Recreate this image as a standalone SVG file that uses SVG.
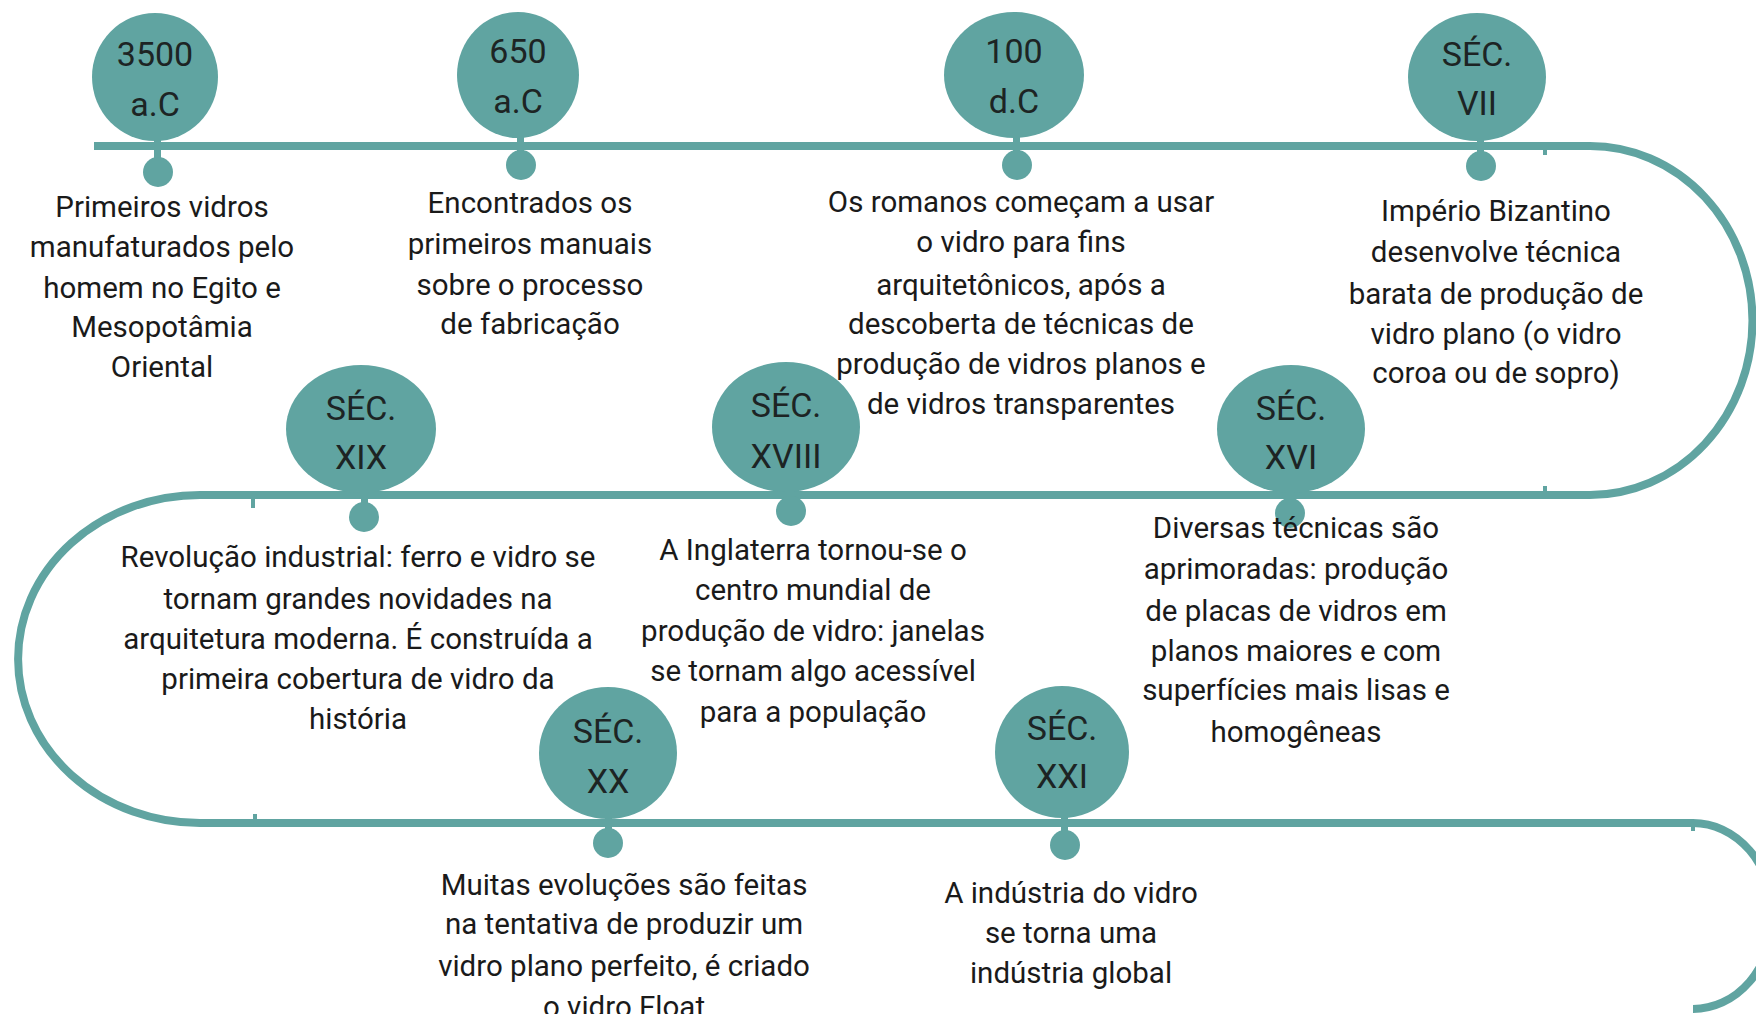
<svg xmlns="http://www.w3.org/2000/svg" width="1756" height="1014" viewBox="0 0 1756 1014">
<style>
.bub{fill:#60a4a1}
.dot{fill:#60a4a1}
.stem{fill:#60a4a1}
.tl{fill:none;stroke:#60a4a1;stroke-width:8}
.tick{fill:#60a4a1}
.yr{font-family:Roboto,"Liberation Sans",sans-serif;font-size:34px;fill:#1d2424;text-anchor:middle}
.tx{font-family:Roboto,"Liberation Sans",sans-serif;font-size:29.5px;fill:#1a1a1a;text-anchor:middle}
</style>
<rect width="1756" height="1014" fill="#ffffff"/>
<g id="connectors">
<path class="tl" d="M94,146 H1590 A162,174 0 0 1 1590,495 H200 A182,164 0 0 0 200,823 H1693 A80,93 0 0 1 1693,1009"/>
<rect class="tick" x="1543" y="146" width="4" height="9"/>
<rect class="tick" x="1543" y="486" width="4" height="9"/>
<rect class="tick" x="251" y="495" width="4" height="13"/>
<rect class="tick" x="253" y="814" width="4" height="9"/>
<rect class="tick" x="1691" y="823" width="4" height="8"/>
</g>
<g id="n3500">
<ellipse class="bub" cx="155" cy="77" rx="63" ry="64"/>
<rect class="stem" x="154" y="140" width="7" height="25"/>
<circle class="dot" cx="158" cy="172" r="15"/>
<text class="yr" x="155" y="66">3500</text>
<text class="yr" x="155" y="116">a.C</text>
<text class="tx"><tspan x="162" y="217">Primeiros vidros</tspan><tspan x="162" y="257">manufaturados pelo</tspan><tspan x="162" y="298">homem no Egito e</tspan><tspan x="162" y="337">Mesopotâmia</tspan><tspan x="162" y="377">Oriental</tspan></text>
</g>
<g id="n650">
<ellipse class="bub" cx="518" cy="75" rx="61" ry="63"/>
<rect class="stem" x="517" y="136" width="7" height="22"/>
<circle class="dot" cx="521" cy="165" r="15"/>
<text class="yr" x="518" y="63">650</text>
<text class="yr" x="518" y="113">a.C</text>
<text class="tx"><tspan x="530" y="213">Encontrados os</tspan><tspan x="530" y="254">primeiros manuais</tspan><tspan x="530" y="295">sobre o processo</tspan><tspan x="530" y="334">de fabricação</tspan></text>
</g>
<g id="n100">
<ellipse class="bub" cx="1014" cy="75" rx="70" ry="63"/>
<rect class="stem" x="1013" y="136" width="7" height="22"/>
<circle class="dot" cx="1017" cy="165" r="15"/>
<text class="yr" x="1014" y="63">100</text>
<text class="yr" x="1014" y="113">d.C</text>
<text class="tx"><tspan x="1021" y="212">Os romanos começam a usar</tspan><tspan x="1021" y="252">o vidro para fins</tspan><tspan x="1021" y="295">arquitetônicos, após a</tspan><tspan x="1021" y="334">descoberta de técnicas de</tspan><tspan x="1021" y="374">produção de vidros planos e</tspan><tspan x="1021" y="414">de vidros transparentes</tspan></text>
</g>
<g id="nVII">
<ellipse class="bub" cx="1477" cy="77" rx="69" ry="64"/>
<rect class="stem" x="1477" y="138" width="7" height="22"/>
<circle class="dot" cx="1481" cy="166" r="15"/>
<text class="yr" x="1477" y="66">SÉC.</text>
<text class="yr" x="1477" y="115">VII</text>
<text class="tx"><tspan x="1496" y="221">Império Bizantino</tspan><tspan x="1496" y="262">desenvolve técnica</tspan><tspan x="1496" y="304">barata de produção de</tspan><tspan x="1496" y="344">vidro plano (o vidro</tspan><tspan x="1496" y="383">coroa ou de sopro)</tspan></text>
</g>
<g id="nXIX">
<ellipse class="bub" cx="361" cy="429" rx="75" ry="64"/>
<rect class="stem" x="361" y="489" width="7" height="22"/>
<circle class="dot" cx="364" cy="517" r="15"/>
<text class="yr" x="361" y="420">SÉC.</text>
<text class="yr" x="361" y="469">XIX</text>
<text class="tx"><tspan x="358" y="567">Revolução industrial: ferro e vidro se</tspan><tspan x="358" y="609">tornam grandes novidades na</tspan><tspan x="358" y="649">arquitetura moderna. É construída a</tspan><tspan x="358" y="689">primeira cobertura de vidro da</tspan><tspan x="358" y="729">história</tspan></text>
</g>
<g id="nXVIII">
<ellipse class="bub" cx="786" cy="427" rx="74" ry="65"/>
<rect class="stem" x="787" y="489" width="7" height="18"/>
<circle class="dot" cx="791" cy="511" r="15"/>
<text class="yr" x="786" y="417">SÉC.</text>
<text class="yr" x="786" y="468">XVIII</text>
<text class="tx"><tspan x="813" y="560">A Inglaterra tornou-se o</tspan><tspan x="813" y="600">centro mundial de</tspan><tspan x="813" y="641">produção de vidro: janelas</tspan><tspan x="813" y="681">se tornam algo acessível</tspan><tspan x="813" y="722">para a população</tspan></text>
</g>
<g id="nXVI">
<ellipse class="bub" cx="1291" cy="429" rx="74" ry="64"/>
<rect class="stem" x="1287" y="489" width="7" height="20"/>
<circle class="dot" cx="1290" cy="513" r="15"/>
<text class="yr" x="1291" y="420">SÉC.</text>
<text class="yr" x="1291" y="469">XVI</text>
<text class="tx"><tspan x="1296" y="538">Diversas técnicas são</tspan><tspan x="1296" y="579">aprimoradas: produção</tspan><tspan x="1296" y="621">de placas de vidros em</tspan><tspan x="1296" y="661">planos maiores e com</tspan><tspan x="1296" y="700">superfícies mais lisas e</tspan><tspan x="1296" y="742">homogêneas</tspan></text>
</g>
<g id="nXX">
<ellipse class="bub" cx="608" cy="753" rx="69" ry="66"/>
<rect class="stem" x="605" y="817" width="7" height="20"/>
<circle class="dot" cx="608" cy="843" r="15"/>
<text class="yr" x="608" y="743">SÉC.</text>
<text class="yr" x="608" y="793">XX</text>
<text class="tx"><tspan x="624" y="895">Muitas evoluções são feitas</tspan><tspan x="624" y="934">na tentativa de produzir um</tspan><tspan x="624" y="976">vidro plano perfeito, é criado</tspan><tspan x="624" y="1017">o vidro Float</tspan></text>
</g>
<g id="nXXI">
<ellipse class="bub" cx="1062" cy="752" rx="67" ry="66"/>
<rect class="stem" x="1061" y="817" width="7" height="22"/>
<circle class="dot" cx="1065" cy="845" r="15"/>
<text class="yr" x="1062" y="740">SÉC.</text>
<text class="yr" x="1062" y="788">XXI</text>
<text class="tx"><tspan x="1071" y="903">A indústria do vidro</tspan><tspan x="1071" y="943">se torna uma</tspan><tspan x="1071" y="983">indústria global</tspan></text>
</g>
</svg>
